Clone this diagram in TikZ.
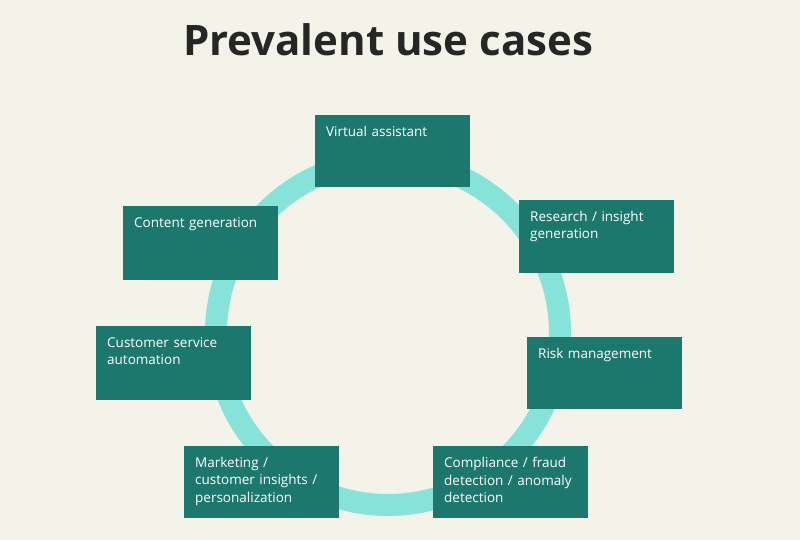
\documentclass[tikz,border=0pt]{standalone}
\usepackage{fontspec}
\setmainfont{Open Sans}
\definecolor{bg}{HTML}{F4F3EA}
\definecolor{boxc}{HTML}{1C786D}
\definecolor{ringc}{HTML}{86E3DA}
\begin{document}
\begin{tikzpicture}[x=1pt,y=-1pt,
  ubox/.style={fill=boxc,draw=none},
  utext/.style={anchor=north west,text=white,font=\fontsize{13.5}{17.5}\selectfont,align=left,text width=140pt,inner sep=0pt}]
\fill[bg] (0,0) rectangle (800,540);
\useasboundingbox (0,0) rectangle (800,540);
\node[font=\fontsize{42}{48}\selectfont\bfseries,text=black!85] (title) at (388,40) {Prevalent use cases};
\draw[ringc,line width=22pt] (388,333) circle (172);
\newcommand{\ucase}[6]{%
  \fill[ubox] (#2,#3) rectangle (#4,#5);
  \node[utext] (#1) at (#2+11,#3+11) {#6};}
\ucase{va}{315}{115}{470}{187}{Virtual assistant}
\ucase{ri}{519}{200}{674}{273}{Research / insight\\generation}
\ucase{rm}{527}{337}{682}{409}{Risk management}
\ucase{cf}{433}{446}{588}{518}{Compliance / fraud\\detection / anomaly\\detection}
\ucase{mk}{184}{446}{339}{518}{Marketing /\\customer insights /\\personalization}
\ucase{cs}{96}{326}{251}{400}{Customer service\\automation}
\ucase{cg}{123}{206}{278}{280}{Content generation}
\end{tikzpicture}
\end{document}
